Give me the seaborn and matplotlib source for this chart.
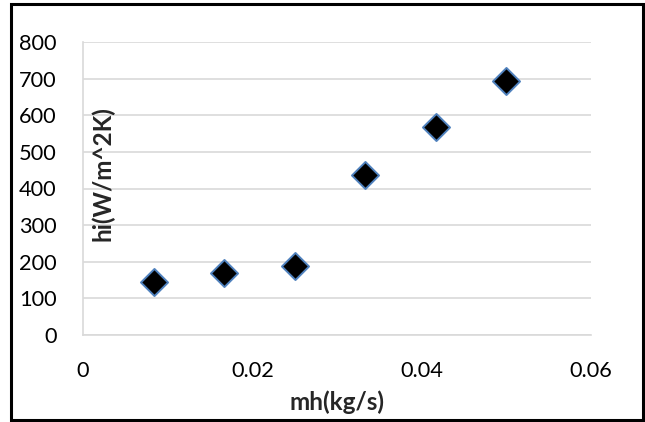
import matplotlib
matplotlib.use("Agg")
import matplotlib.pyplot as plt
import seaborn as sns
import pandas as pd
from matplotlib.patches import Rectangle

mh = [0.00833, 0.01667, 0.025, 0.03333, 0.04167, 0.05]
hi = [145, 170, 188, 436, 569, 694]
x_ticks = [0, 0.02, 0.04, 0.06]
x_ticklabels = ["0", "0.02", "0.04", "0.06"]
y_ticks = [0, 100, 200, 300, 400, 500, 600, 700, 800]

sns.set_theme(style="white")
plt.rcParams['font.family'] = ['Lato', 'DejaVu Sans']

df = pd.DataFrame({"mh": mh, "hi": hi})

fig = plt.figure(figsize=(6.45, 4.22), dpi=100)
ax = fig.add_axes([83/645, 1-335/422, (591-83)/645, (335-42)/422])

sns.scatterplot(data=df, x="mh", y="hi", ax=ax, marker="D", s=190,
                color="black", edgecolor="#4F81BD", linewidth=1.4, zorder=3)

ax.set_xlim(0, 0.06)
ax.set_ylim(0, 800)
ax.set_xticks(x_ticks)
ax.set_xticklabels(x_ticklabels)
ax.set_yticks(y_ticks)
ax.yaxis.grid(True, color="#D9D9D9", linewidth=1.2)
ax.xaxis.grid(False)
for side in ["top", "right"]:
    ax.spines[side].set_visible(False)
for side in ["left", "bottom"]:
    ax.spines[side].set_color("#D9D9D9")
    ax.spines[side].set_linewidth(1.2)
ax.tick_params(axis="x", length=0, pad=19, labelsize=15.7, colors="black")
ax.tick_params(axis="y", length=0, pad=19, labelsize=15.7, colors="black")
ax.set_xlabel("")
ax.set_ylabel("")

fig.text(103/645, 1-174/422, "hi(W/m^2K)", rotation=90, ha="center", va="center",
         fontsize=17.5, fontweight="bold")
fig.text(337/645, 1-402/422, "mh(kg/s)", ha="center", va="center",
         fontsize=17.5, fontweight="bold")

fig.patches.append(Rectangle((11/645, 2/422), (643-11)/645, (418-2)/422,
                             transform=fig.transFigure, fill=False,
                             edgecolor="black", linewidth=2.2))

fig.savefig("out.png", dpi=100)
